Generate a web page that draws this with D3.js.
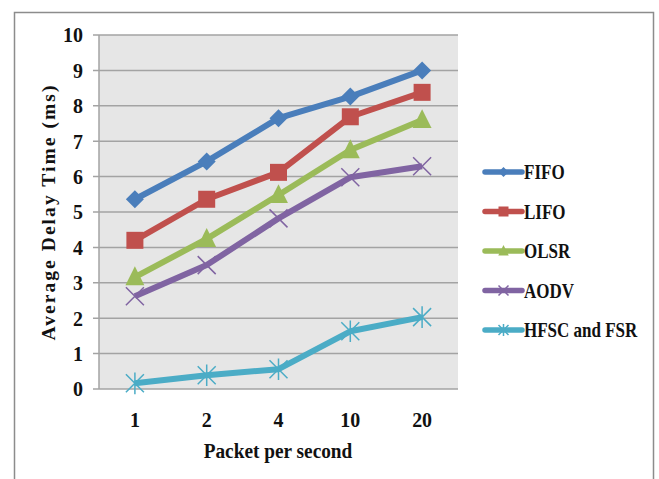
<!DOCTYPE html>
<html>
<head>
<meta charset="utf-8">
<script src="https://cdn.jsdelivr.net/npm/d3@7"></script>
<style>
  body { margin: 0; background: #fff; }
  text { font-family: "Liberation Serif", "DejaVu Serif", serif; font-weight: bold; fill: #111; }
</style>
</head>
<body>
<div id="chart"></div>
<script>
// data
var categories = ["1", "2", "4", "10", "20"];
var yTicks = [0, 1, 2, 3, 4, 5, 6, 7, 8, 9, 10];
var fifo = [5.36, 6.43, 7.65, 8.26, 9.0];
var lifo = [4.2, 5.36, 6.12, 7.69, 8.38];
var olsr = [3.16, 4.24, 5.48, 6.75, 7.6];
var aodv = [2.62, 3.5, 4.82, 5.98, 6.29];
var hfsc = [0.16, 0.39, 0.56, 1.63, 2.03];
var seriesNames = ["FIFO", "LIFO", "OLSR", "AODV", "HFSC and FSR"];

var series = [
  {name: seriesNames[0], values: fifo, color: "#4a7ebb", marker: "diamond"},
  {name: seriesNames[1], values: lifo, color: "#c0504d", marker: "square"},
  {name: seriesNames[2], values: olsr, color: "#9bbb59", marker: "triangle"},
  {name: seriesNames[3], values: aodv, color: "#8064a2", marker: "x"},
  {name: seriesNames[4], values: hfsc, color: "#4bacc6", marker: "star"}
];

var W = 659, H = 479;
var plot = {l: 99, t: 35, r: 458, b: 389};

var svg = d3.select("#chart").append("svg")
    .attr("width", W)
    .attr("height", H);

// outer frame (bottom is cut off in the picture)
svg.append("path")
    .attr("d", "M14.5," + H + "V12.5H653.5V" + H)
    .attr("fill", "none")
    .attr("stroke", "#8c8c8c")
    .attr("stroke-width", 1.5);

var x = d3.scaleBand().domain(categories).range([plot.l, plot.r]);
var y = d3.scaleLinear().domain([0, 10]).range([plot.b, plot.t]);

svg.append("rect")
    .attr("x", plot.l).attr("y", plot.t)
    .attr("width", plot.r - plot.l).attr("height", plot.b - plot.t)
    .attr("fill", "#e6e6e6");

// gridlines
svg.append("g").selectAll("line")
    .data(yTicks)
    .enter().append("line")
    .attr("x1", plot.l - 6).attr("x2", plot.r)
    .attr("y1", function (d) { return y(d); })
    .attr("y2", function (d) { return y(d); })
    .attr("stroke", "#a3a3a3")
    .attr("stroke-width", 1.5);

svg.append("line")
    .attr("x1", plot.l).attr("x2", plot.l)
    .attr("y1", plot.t).attr("y2", plot.b)
    .attr("stroke", "#a3a3a3")
    .attr("stroke-width", 1.5);

// text is squeezed sideways like the condensed serif in the picture
function squeeze(px, py, sx) {
  return "translate(" + px + "," + py + ") scale(" + sx + ",1)";
}

// y tick labels
svg.append("g").selectAll("text")
    .data(yTicks)
    .enter().append("text")
    .attr("transform", function (d) { return squeeze(83, y(d), 0.95); })
    .attr("dy", "0.35em")
    .attr("text-anchor", "end")
    .style("font-size", "21px")
    .text(function (d) { return d; });

// x tick labels
svg.append("g").selectAll("text")
    .data(categories)
    .enter().append("text")
    .attr("transform", function (d) { return squeeze(x(d) + x.bandwidth() / 2, 420, 0.95); })
    .attr("dy", "0.35em")
    .attr("text-anchor", "middle")
    .style("font-size", "21px")
    .text(function (d) { return d; });

svg.append("text")
    .attr("transform", squeeze(278, 451, 0.92))
    .attr("dy", "0.35em")
    .attr("text-anchor", "middle")
    .style("font-size", "21px")
    .text("Packet per second");

svg.append("text")
    .attr("transform", "translate(48,213) rotate(-90)")
    .attr("dy", "0.35em")
    .attr("text-anchor", "middle")
    .attr("textLength", 255)
    .attr("lengthAdjust", "spacing")
    .style("font-size", "19.5px")
    .text("Average Delay Time (ms)");

function drawMarker(g, type, color, s) {
  if (type === "diamond") {
    g.append("path").attr("d", "M0," + (-s) + "L" + s + ",0L0," + s + "L" + (-s) + ",0Z").attr("fill", color);
  } else if (type === "square") {
    g.append("rect").attr("x", -s).attr("y", -s).attr("width", 2 * s).attr("height", 2 * s).attr("fill", color);
  } else if (type === "triangle") {
    g.append("path").attr("d", "M0," + (-s * 1.2) + "L" + (s * 1.05) + "," + (s * 0.9) + "L" + (-s * 1.05) + "," + (s * 0.9) + "Z").attr("fill", color);
  } else if (type === "x") {
    g.append("path").attr("d", "M" + (-s) + "," + (-s) + "L" + s + "," + s + "M" + s + "," + (-s) + "L" + (-s) + "," + s)
      .attr("stroke", color).attr("stroke-width", 1.5);
  } else if (type === "star") {
    g.append("path").attr("d", "M" + (-s) + "," + (-s) + "L" + s + "," + s + "M" + s + "," + (-s) + "L" + (-s) + "," + s + "M0," + (-s * 1.2) + "V" + (s * 1.2))
      .attr("stroke", color).attr("stroke-width", 1.5);
  }
}

var line = d3.line()
    .x(function (d, i) { return x(categories[i]) + x.bandwidth() / 2; })
    .y(function (d) { return y(d); });

series.forEach(function (s) {
  var g = svg.append("g");
  g.append("path")
      .attr("d", line(s.values))
      .attr("fill", "none")
      .attr("stroke", s.color)
      .attr("stroke-width", 6)
      .attr("stroke-linejoin", "round");
  s.values.forEach(function (v, i) {
    var m = g.append("g")
        .attr("transform", "translate(" + (x(categories[i]) + x.bandwidth() / 2) + "," + y(v) + ")");
    drawMarker(m, s.marker, s.color, s.marker === "square" ? 8.5 : 9);
  });
});

// legend
var legend = svg.append("g").selectAll("g")
    .data(series)
    .enter().append("g")
    .attr("transform", function (d, i) { return "translate(485," + (172 + i * 39.5) + ")"; });

legend.append("line")
    .attr("x1", 0).attr("x2", 37)
    .attr("stroke", function (d) { return d.color; })
    .attr("stroke-width", 5.5)
    .attr("stroke-linecap", "round");

legend.each(function (d) {
  var m = d3.select(this).append("g").attr("transform", "translate(18.5,0)");
  drawMarker(m, d.marker, d.color, 5);
});

legend.append("text")
    .attr("transform", squeeze(39, 0, 0.81))
    .attr("dy", "0.35em")
    .style("font-size", "21px")
    .text(function (d) { return d.name; });
</script>
</body>
</html>
